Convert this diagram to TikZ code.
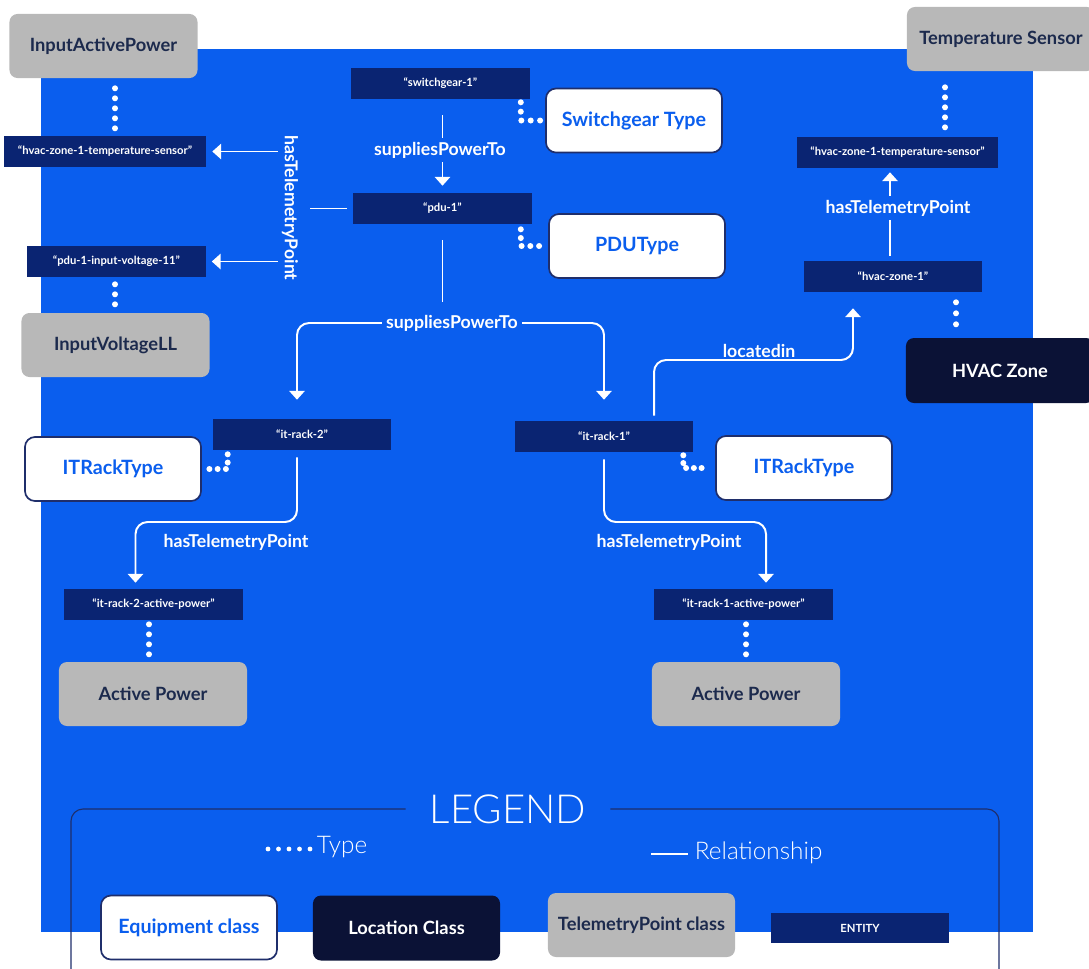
\documentclass[tikz,border=0pt]{standalone}
\usepackage{fontspec}
\setmainfont{Lato}
\newfontfamily\leggero{Lato Light}
\usepackage{tikz}
\usetikzlibrary{arrows.meta,calc}
\definecolor{blu}{HTML}{0A5EEE}
\definecolor{entita}{HTML}{0A2472}
\definecolor{notte}{HTML}{0B1236}
\definecolor{grigio}{HTML}{B8B8B8}
\definecolor{inchiostro}{HTML}{1C2A4D}
\definecolor{bordo}{HTML}{1F2E6B}
\newcommand{\fentita}{\fontsize{8pt}{9pt}\selectfont\bfseries}
\newcommand{\fclasse}{\fontsize{13pt}{15pt}\selectfont\bfseries}
\newcommand{\fequip}{\fontsize{14pt}{16pt}\selectfont\bfseries}
\newcommand{\flab}{\fontsize{12.6pt}{14pt}\selectfont\bfseries}
\newcommand{\fleg}{\fontsize{28.5pt}{32pt}\selectfont\leggero}
\newcommand{\fvoce}{\fontsize{17.3pt}{19pt}\selectfont\leggero}

\begin{document}
\begin{tikzpicture}[x=0.025cm, y=-0.025cm,
  ent/.style={fill=entita, text=white, font=\fentita, minimum width=4.45cm, minimum height=0.775cm, inner sep=0pt},
  tele/.style={fill=grigio, text=inchiostro, font=\fclasse, rounded corners=0.2cm, minimum width=4.7cm, minimum height=1.6cm, inner sep=0pt},
  equip/.style={fill=white, draw=bordo, line width=1.2pt, text=blu, font=\fequip, rounded corners=0.25cm, minimum width=4.4cm, minimum height=1.6cm, inner sep=0pt},
  luogo/.style={fill=notte, text=white, font=\fclasse, rounded corners=0.2cm, minimum width=4.7cm, minimum height=1.625cm, inner sep=0pt},
  lab/.style={text=white, font=\flab, inner sep=0.1cm},
  rel/.style={white, line width=1.4pt},
  freccia/.style={-{Triangle[width=0.38cm,length=0.22cm]}},
  tipo/.style={white, line width=0.15cm, line cap=round, dash pattern=on 0pt off #1},
  tipo/.default=0.25cm,
  cornice/.style={draw=bordo, line width=0.8pt, rounded corners=0.3cm},
]
\useasboundingbox (0,0) rectangle (1089,968);

% Sfondo
\fill[blu] (41,49) rectangle (1033,932);

% Classi di telemetria
\node[tele] (iap) at (103.5,46) {InputActivePower};
\node[tele] (ivl) at (115.5,345) {InputVoltageLL};
\node[tele] (ts) at (1001,39) {Temperature Sensor};
\node[tele] (apw2) at (153,694) {Active Power};
\node[tele] (apw1) at (746,694) {Active Power};

% Classi di equipaggiamento
\node[equip] (sgt) at (634,120.5) {Switchgear Type};
\node[equip] (pdt) at (637,246) {PDUType};
\node[equip] (irt2) at (113,469) {ITRackType};
\node[equip] (irt1) at (804,468) {ITRackType};

% Luogo
\node[luogo] (hvz) at (1000,370.5) {HVAC Zone};

% Entita
\node[ent, minimum width=5.05cm] (tsl) at (105,151.5) {“hvac-zone-1-temperature-sensor”};
\node[ent] (piv) at (116.5,261.5) {“pdu-1-input-voltage-11”};
\node[ent] (sg) at (440.5,83.5) {“switchgear-1”};
\node[ent] (pdu) at (442.5,208.5) {“pdu-1”};
\node[ent] (ir2) at (302,434.5) {“it-rack-2”};
\node[ent] (ir1) at (604,436.5) {“it-rack-1”};
\node[ent] (irp2) at (153.5,604.5) {“it-rack-2-active-power”};
\node[ent] (irp1) at (743.5,604.5) {“it-rack-1-active-power”};
\node[ent] (hz) at (893,276.5) {“hvac-zone-1”};
\node[ent, minimum width=5.025cm] (tsr) at (897.5,152.5) {“hvac-zone-1-temperature-sensor”};

% Etichette delle relazioni
\node[lab] (sp1) at (440,150) {suppliesPowerTo};
\node[lab] (sp2) at (452,323) {suppliesPowerTo};
\node[lab, rotate=-90] (htp) at (290,208) {hasTelemetryPoint};
\node[lab] (htp3) at (898,208) {hasTelemetryPoint};
\node[lab] (htp2) at (236,542) {hasTelemetryPoint};
\node[lab] (htp1) at (669,542) {hasTelemetryPoint};
\node[lab] (li) at (759,351) {locatedin};

% suppliesPowerTo
\draw[rel, shorten <=0.4cm] (pdu.north |- sg.south) -- (pdu.north |- sp1.north);
\draw[rel, freccia, shorten >=0.175cm] (pdu.north |- sp1.south) -- (pdu.north);
\draw[rel, shorten <=0.4cm, shorten >=0.225cm] (pdu.south) -- (pdu.south |- sp2.north);
\coordinate (ir2n) at ([xshift=-0.125cm]ir2.north);
\draw[rel, freccia, rounded corners=0.3cm, shorten >=0.475cm] (sp2.west) -| (ir2n);
\draw[rel, freccia, rounded corners=0.3cm, shorten >=0.525cm] (sp2.east) -| (ir1.north);

% hasTelemetryPoint del pdu
\draw[rel, shorten <=0.15cm, shorten >=0.2cm] (pdu.west) -- (htp.north |- pdu.west);
\draw[rel, freccia, shorten >=0.15cm] (htp.south |- tsl.east) -- (tsl.east);
\draw[rel, freccia, shorten >=0.15cm] (htp.south |- piv.east) -- (piv.east);

% hasTelemetryPoint della zona
\coordinate (hzt) at ([xshift=-0.075cm]hz.north);
\draw[rel, shorten <=0.125cm] (hzt) -- (hzt |- htp3.south);
\draw[rel, freccia, shorten >=0.1cm] (hzt |- htp3.north) -- (hzt |- tsr.south);

% locatedin
\coordinate (ir1t) at ([xshift=1.25cm]ir1.north);
\coordinate (hzb) at ([xshift=-1cm]hz.south);
\coordinate (lk) at (760,360);
\draw[rel, freccia, rounded corners=0.3cm, shorten <=0.125cm, shorten >=0.4cm] (ir1t) |- (lk) -| (hzb);

% hasTelemetryPoint dei rack
\coordinate (ir2s) at ([xshift=-0.125cm]ir2.south);
\coordinate (k2) at (216,522);
\coordinate (ap2n) at ([xshift=-0.45cm]irp2.north);
\draw[rel, freccia, rounded corners=0.3cm, shorten <=0.175cm, shorten >=0.15cm] (ir2s) |- (k2) -| (ap2n);
\coordinate (k1) at (680,522);
\coordinate (ap1n) at ([xshift=0.5625cm]irp1.north);
\draw[rel, freccia, rounded corners=0.3cm, shorten <=0.175cm, shorten >=0.15cm] (ir1.south) |- (k1) -| (ap1n);

% Tipi (puntini)
\draw[tipo] ($(iap.south)+(11.5,10)$) -- ($(tsl.north)+(10,-5)$);
\draw[tipo] ($(piv.south)+(-1.5,7)$) -- ($(ivl.north)+(-0.5,-6)$);
\draw[tipo=0.234375cm] ($(sg.south east)+(-9,3)$) |- ($(sgt.west)+(-2,0)$);
\draw[tipo=0.21875cm] ($(pdu.south east)+(-11,5)$) |- ($(pdt.west)+(-6,0)$);
\draw[tipo=0.20625cm] ($(ir2.south west)+(15,4)$) |- ($(irt2.east)+(5,0)$);
\draw[tipo=0.19375cm] ($(ir1.south east)+(-10,3)$) |- ($(irt1.west)+(-11,0)$);
\draw[tipo] ($(irp2.south)+(-4.5,4)$) -- ($(apw2.north)+(-4,-5)$);
\draw[tipo] ($(irp1.south)+(2.5,4)$) -- ($(apw1.north)+(0,-5)$);
\draw[tipo=0.275cm] ($(hz.south)+(63,10)$) -- ($(hvz.north)+(-44,-11)$);
\draw[tipo] ($(ts.south)+(-56,16)$) -- ($(tsr.north)+(47.5,-7)$);

% Legenda
\node[font=\fleg, text=white, inner xsep=0.6cm] (leg) at (508,809) {LEGEND};
\draw[cornice] (leg.west) -| (71,990);
\draw[cornice] (leg.east) -| (999,990);
\node[font=\fvoce, text=white, anchor=west] (ltipo) at (312,847) {Type};
\draw[tipo=0.2625cm, line width=0.12cm] ($(ltipo.west)+(-44,2)$) -- ($(ltipo.west)+(1,2)$);
\node[font=\fvoce, text=white, anchor=west] (lrel) at (690,853) {Relationship};
\draw[rel] ($(lrel.west)+(-39,1)$) -- ($(lrel.west)+(-2,1)$);

\node[equip] (leq) at (189,927.5) {Equipment class};
\node[luogo, minimum width=4.675cm] (lloc) at (406.5,928) {Location Class};
\node[tele, minimum width=4.675cm] (ltel) at (641.5,925) {TelemetryPoint class};
\node[ent, minimum height=0.75cm] (lent) at (860,928) {ENTITY};
\end{tikzpicture}
\end{document}
